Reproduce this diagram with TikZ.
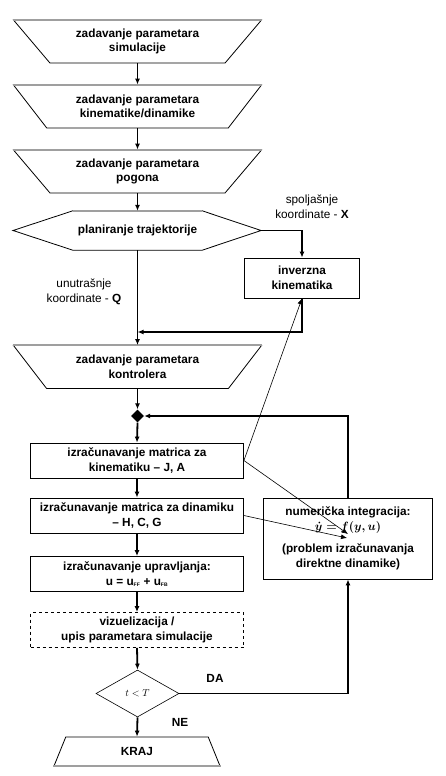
\documentclass[tikz,border=0pt]{standalone}
\usepackage{fontspec}
\setmainfont{Liberation Sans}
\usetikzlibrary{shapes.geometric,arrows.meta,calc}
\begin{document}
\begin{tikzpicture}[x=1pt,y=-1pt,
  font=\fontsize{11.8}{14.5}\selectfont\bfseries,
  flow/.style={line width=1.8pt,-{Latex[length=6pt,width=5pt]}},
  thinarrow/.style={line width=0.6pt,-{Latex[length=6pt,width=5pt]}},
  box/.style={draw,line width=0.8pt,rectangle,minimum width=213pt,minimum height=35pt,align=center,inner sep=0pt},
  trap/.style={trapezium,draw,line width=0.8pt,trapezium left angle=145,trapezium right angle=145,trapezium stretches body,minimum width=248pt,minimum height=43pt,align=center,inner sep=0pt},
  topedge/.style={draw=gray!75,line width=2pt},
  lbl/.style={font=\fontsize{11.8}{14.5}\selectfont\mdseries,align=center},
]
\useasboundingbox[fill=white] (0,0) rectangle (446,776);

% trapezoids
\node[trap] (t1) at (137.5,41.5) {zadavanje parametara\\simulacije};
\node[trap] (t2) at (137.5,106.5) {zadavanje parametara\\kinematike/dinamike};
\node[trap] (t3) at (137.5,171.5) {zadavanje parametara\\pogona};
\foreach \t in {t1,t2,t3} \draw[topedge] (\t.top left corner) -- (\t.top right corner);

% hexagon
\node[minimum width=129pt,minimum height=39pt,inner sep=0pt] (plan) at (137.5,230.5) {planiranje trajektorije};
\coordinate (planW) at (13,230.5);
\coordinate (planE) at (261,230.5);
\draw[line width=0.8pt] (planW) -- (plan.north west) -- (plan.north east) -- (planE) -- (plan.south east) -- (plan.south west) -- cycle;
\draw[topedge] (plan.north west) -- (plan.north east);

% inverse kinematics
\node[draw,line width=0.8pt,minimum width=115pt,minimum height=40pt,align=center,inner sep=0pt] (ik) at (302,278) {inverzna\\kinematika};

\node[lbl] (lx) at (312,207) {spoljašnje\\koordinate - \textbf{X}};
\node[lbl] (lq) at (84,292) {unutrašnje\\koordinate - \textbf{Q}};

\node[trap] (t4) at (137.5,367) {zadavanje parametara\\kontrolera};
\draw[topedge] (t4.top left corner) -- (t4.top right corner);

% junction
\node[diamond,fill=black,inner sep=0pt,minimum size=13pt] (jn) at (137.5,416) {};

% boxes
\node[box] (k1) at (137,460.5) {izračunavanje matrica za\\kinematiku – J, A};
\node[box] (k2) at (137,515.5) {izračunavanje matrica za dinamiku\\– H, C, G};
\node[box] (k3) at (137,574) {izračunavanje upravljanja:\\u = u{\fontsize{7}{8}\selectfont\textsubscript{FF}} + u{\fontsize{7}{8}\selectfont\textsubscript{FB}}};
\node[box,dashed] (vz) at (137,630) {vizuelizacija /\\upis parametara simulacije};

\node[draw,line width=0.8pt,minimum width=169pt,minimum height=81pt,align=center,inner sep=0pt] (num) at (348,538.5)
  {numerička integracija:\\{\boldmath$\dot{y}=f(y,u)$}\\[8pt](problem izračunavanja\\direktne dinamike)};

% decision
\node[diamond,draw,line width=0.6pt,aspect=1.77,minimum width=83pt,minimum height=47pt,inner sep=0pt,font=\mdseries] (dec) at (137.5,693.5) {$t<T$};
\node (da) at (215,678) {DA};
\node (ne) at (180,722) {NE};

% end
\node[trapezium,draw,line width=0.8pt,trapezium left angle=35,trapezium right angle=35,trapezium stretches body,minimum width=166pt,minimum height=29pt,inner sep=0pt] (kraj) at (137,751.5) {KRAJ};
\draw[topedge] (kraj.bottom left corner) -- (kraj.bottom right corner);

% coordinates
\coordinate (m1) at (137.5,332);
\coordinate (p1) at (348,534);
\coordinate (p2) at (347,538);

% main flow
\draw[flow] (t1.bottom side) -- (t2.top side);
\draw[flow] (t2.bottom side) -- (t3.top side);
\draw[flow] (t3.bottom side) -- (plan.north);
\draw[flow] (plan.south) -- (t4.top side);
\draw[flow] (planE) -| (ik.north);
\draw[flow] (ik.south) |- (m1);
\draw[flow] (t4.bottom side) -- (jn.north);
\draw[flow] (jn.south) -- (k1.north);
\draw[flow] (k1.south) -- (k2.north);
\draw[flow] (k2.south) -- (k3.north);
\draw[flow] (k3.south) -- (vz.north);
\draw[flow] (vz.south) -- (dec.north);
\draw[flow] (dec.south) -- (kraj.top side);
\draw[flow] (dec.east) -| (num.south);
\draw[flow] (num.north) |- (jn.east);

% thin arrows
\draw[thinarrow] (k1.east) -- (ik.south);
\draw[thinarrow] (k1.east) -- (p1);
\draw[thinarrow] (k2.east) -- (p2);
\end{tikzpicture}
\end{document}
